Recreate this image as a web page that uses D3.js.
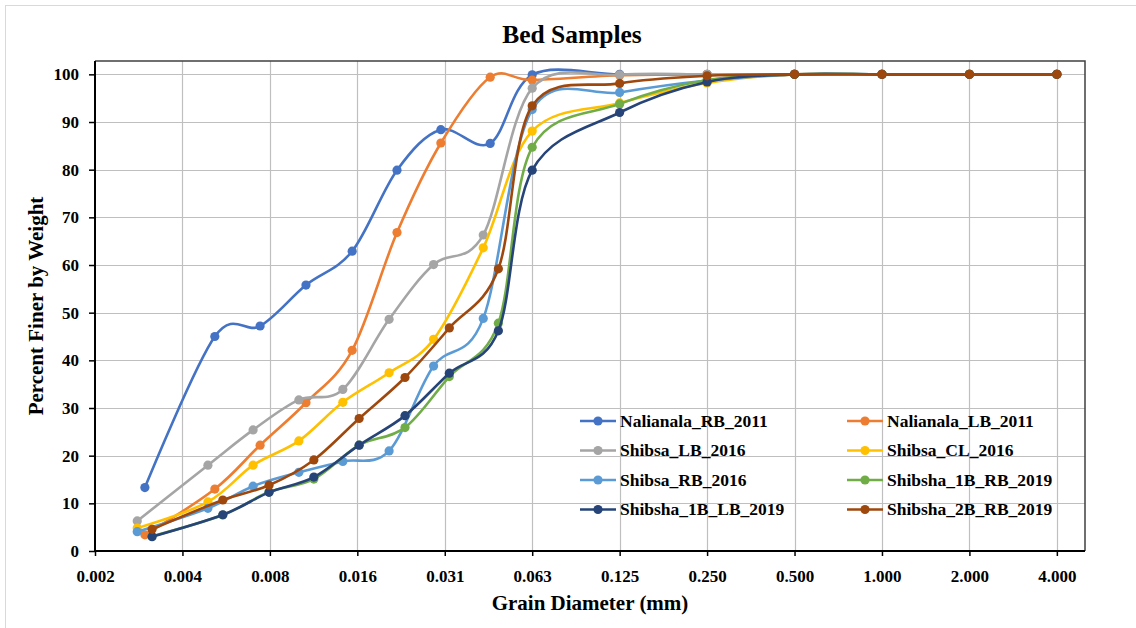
<!DOCTYPE html>
<html>
<head>
<meta charset="utf-8">
<script src="https://cdn.jsdelivr.net/npm/d3@7"></script>
<style>
  html, body { margin: 0; padding: 0; background: #ffffff; }
  svg { display: block; font-family: "Liberation Serif", "Times New Roman", serif; }
</style>
</head>
<body>
<svg id="chart" width="1136" height="628"></svg>
<script>
// Grain size distribution of bed samples (diameter in mm, percent finer by weight)

const seriesNames = [
  "Nalianala_RB_2011", "Nalianala_LB_2011",
  "Shibsa_LB_2016", "Shibsa_CL_2016",
  "Shibsa_RB_2016", "Shibsha_1B_RB_2019",
  "Shibsha_1B_LB_2019", "Shibsha_2B_RB_2019"
];
const seriesColors = [
  "#4472C4", "#ED7D31", "#A5A5A5", "#FFC000",
  "#5B9BD5", "#70AD47", "#264478", "#9E480E"
];

// Sieve / hydrometer diameters (mm) for each sampling campaign
const diaNalianala = [0.0029, 0.00505, 0.00723, 0.0104, 0.0150, 0.0214, 0.0303, 0.0448, 0.0625, 0.125, 0.25, 0.5, 1, 2, 4];
const diaShibsa    = [0.00273, 0.00478, 0.00684, 0.00983, 0.01393, 0.0201, 0.0286, 0.0424, 0.0625, 0.125, 0.25, 0.5, 1, 2, 4];
const diaShibsha   = [0.00307, 0.00538, 0.00776, 0.01107, 0.01585, 0.0228, 0.0324, 0.0478, 0.0625, 0.125, 0.25, 0.5, 1, 2, 4];

// Percent finer by weight
const nalianalaRB2011 = [13.3, 45.0, 47.2, 55.8, 62.9, 79.9, 88.4, 85.5, 99.9, 100, 100, 100, 100, 100, 100];
const nalianalaLB2011 = [3.4, 13.0, 22.2, 31.1, 42.1, 66.8, 85.6, 99.4, 98.8, 99.8, 100, 100, 100, 100, 100];
const shibsaLB2016    = [6.3, 18.0, 25.4, 31.7, 33.9, 48.6, 60.1, 66.3, 97.1, 99.9, 100, 100, 100, 100, 100];
const shibsaCL2016    = [4.8, 10.3, 18.0, 23.1, 31.2, 37.4, 44.4, 63.6, 88.1, 94.0, 98.2, 100, 100, 100, 100];
const shibsaRB2016    = [4.05, 8.95, 13.6, 16.5, 18.8, 21.0, 38.8, 48.8, 92.6, 96.2, 98.7, 100, 100, 100, 100];
const shibsha1BRB2019 = [3.1, 7.55, 12.4, 15.1, 22.2, 25.9, 36.6, 47.8, 84.7, 93.8, 98.8, 100, 100, 100, 100];
const shibsha1BLB2019 = [3.0, 7.6, 12.3, 15.5, 22.2, 28.4, 37.3, 46.2, 79.9, 92.0, 98.4, 100, 100, 100, 100];
const shibsha2BRB2019 = [4.55, 10.7, 13.8, 19.1, 27.8, 36.4, 46.8, 59.2, 93.4, 98.1, 99.7, 100, 100, 100, 100];

const seriesDiameters = [diaNalianala, diaNalianala, diaShibsa, diaShibsa, diaShibsa, diaShibsha, diaShibsha, diaShibsha];
const seriesValues = [nalianalaRB2011, nalianalaLB2011, shibsaLB2016, shibsaCL2016, shibsaRB2016, shibsha1BRB2019, shibsha1BLB2019, shibsha2BRB2019];

// Axis ticks: powers of two on the phi scale
const xTicks = [2 ** -9, 2 ** -8, 2 ** -7, 2 ** -6, 2 ** -5, 2 ** -4, 2 ** -3, 2 ** -2, 2 ** -1, 1, 2, 4];
const xTickLabels = ["0.002", "0.004", "0.008", "0.016", "0.031", "0.063", "0.125", "0.250", "0.500", "1.000", "2.000", "4.000"];
const yTicks = [0, 10, 20, 30, 40, 50, 60, 70, 80, 90, 100];

const plot = { left: 95, right: 1085, top: 61, bottom: 551 };

const svg = d3.select("#chart");

// Outer chart frame
svg.append("rect")
  .attr("x", 5.5).attr("y", 5.5)
  .attr("width", 1140).attr("height", 630)
  .attr("fill", "#ffffff")
  .attr("stroke", "#d9d9d9").attr("stroke-width", 1);

const x = d3.scaleLog().base(2)
  .domain([2 ** -9, 5])
  .range([plot.left, plot.right]);
const y = d3.scaleLinear()
  .domain([0, 102.8])
  .range([plot.bottom, plot.top]);

// Gridlines
const grid = svg.append("g").attr("class", "grid");
grid.selectAll("line.v").data(xTicks.slice(1)).join("line")
  .attr("class", "v")
  .attr("x1", d => Math.round(x(d)) + 0.5).attr("x2", d => Math.round(x(d)) + 0.5)
  .attr("y1", plot.top).attr("y2", plot.bottom)
  .attr("stroke", "#bfbfbf").attr("stroke-width", 1.2);
grid.selectAll("line.h").data(yTicks.slice(1)).join("line")
  .attr("class", "h")
  .attr("x1", plot.left).attr("x2", plot.right)
  .attr("y1", d => Math.round(y(d)) + 0.5).attr("y2", d => Math.round(y(d)) + 0.5)
  .attr("stroke", "#bfbfbf").attr("stroke-width", 1.2);

// Plot frame (top and right)
svg.append("path")
  .attr("d", `M${plot.left},${plot.top}H${plot.right}V${plot.bottom}`)
  .attr("fill", "none")
  .attr("stroke", "#404040").attr("stroke-width", 1.5);

// Axes
const xAxis = d3.axisBottom(x)
  .tickValues(xTicks)
  .tickFormat((d, i) => xTickLabels[i])
  .tickSize(5).tickPadding(14);
const gx = svg.append("g")
  .attr("transform", `translate(0,${plot.bottom})`)
  .call(xAxis);

const yAxis = d3.axisLeft(y)
  .tickValues(yTicks)
  .tickFormat(d3.format("d"))
  .tickSize(6).tickPadding(10);
const gy = svg.append("g")
  .attr("transform", `translate(${plot.left},0)`)
  .call(yAxis);

[gx, gy].forEach(g => {
  g.select(".domain").attr("stroke", "#000").attr("stroke-width", 2);
  g.selectAll(".tick line").attr("stroke", "#000").attr("stroke-width", 1.5);
  g.selectAll(".tick text")
    .attr("fill", "#000")
    .attr("font-family", "'Liberation Serif', 'Times New Roman', serif")
    .attr("font-weight", "bold")
    .attr("font-size", 17);
});
gx.select(".domain").attr("d", `M${plot.left},0H${plot.right}`);
gy.select(".domain").attr("d", `M0,${plot.top}V${plot.bottom}`);

// Series lines and markers
const line = d3.line()
  .x(d => x(d[0]))
  .y(d => y(d[1]))
  .curve(d3.curveCardinal.tension(0));

const seriesG = svg.append("g").attr("class", "series");
seriesNames.forEach((name, i) => {
  const pts = seriesDiameters[i].map((d, j) => [d, seriesValues[i][j]]);
  const g = seriesG.append("g");
  g.append("path")
    .datum(pts)
    .attr("d", line)
    .attr("fill", "none")
    .attr("stroke", seriesColors[i])
    .attr("stroke-width", 2.6)
    .attr("stroke-linejoin", "round");
  g.selectAll("circle").data(pts).join("circle")
    .attr("cx", d => x(d[0]))
    .attr("cy", d => y(d[1]))
    .attr("r", 4.6)
    .attr("fill", seriesColors[i]);
});

// Legend (two columns)
const legend = svg.append("g").attr("class", "legend");
const legendCols = [580, 847];
const legendRows = [421, 450.5, 480, 509.5];
seriesNames.forEach((name, i) => {
  const cx = legendCols[i % 2];
  const cy = legendRows[Math.floor(i / 2)];
  const g = legend.append("g").attr("transform", `translate(${cx},${cy})`);
  g.append("line")
    .attr("x1", 0).attr("x2", 36).attr("y1", 0).attr("y2", 0)
    .attr("stroke", seriesColors[i]).attr("stroke-width", 2.6);
  g.append("circle")
    .attr("cx", 18).attr("cy", 0).attr("r", 4.6)
    .attr("fill", seriesColors[i]);
  g.append("text")
    .attr("x", 40).attr("y", 0).attr("dy", "0.34em")
    .attr("font-weight", "bold").attr("font-size", 17.5)
    .attr("fill", "#000")
    .text(name);
});

// Titles
svg.append("text")
  .attr("x", 572).attr("y", 43)
  .attr("text-anchor", "middle")
  .attr("font-weight", "bold").attr("font-size", 25.5)
  .attr("fill", "#000")
  .text("Bed Samples");

svg.append("text")
  .attr("x", (plot.left + plot.right) / 2).attr("y", 610)
  .attr("text-anchor", "middle")
  .attr("font-weight", "bold").attr("font-size", 21)
  .attr("fill", "#000")
  .text("Grain Diameter (mm)");

svg.append("text")
  .attr("transform", `translate(43,${(plot.top + plot.bottom) / 2}) rotate(-90)`)
  .attr("text-anchor", "middle")
  .attr("font-weight", "bold").attr("font-size", 21)
  .attr("fill", "#000")
  .text("Percent Finer by Weight");
</script>
</body>
</html>
